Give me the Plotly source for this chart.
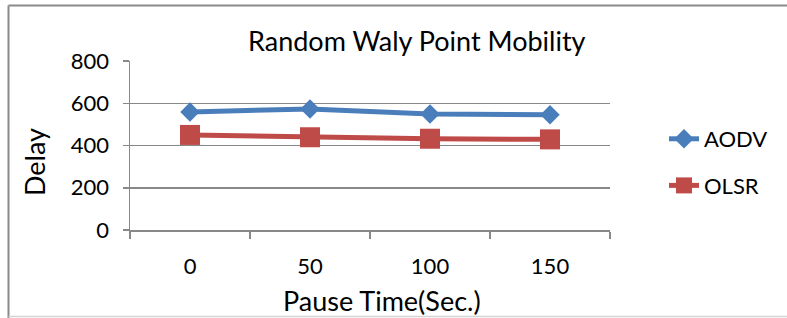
import plotly.graph_objects as go

# Data
pause_time = ["0", "50", "100", "150"]
aodv_delay = [559, 573, 549, 545]
olsr_delay = [450, 439, 432, 429]
y_ticks = [0, 200, 400, 600, 800]

FONT = "Lato"
W, H = 787, 318
L, R, T, B = 130, 177, 61, 88
PW, PH = W - L - R, H - T - B


def px_x(x):
    return (x - L) / PW


def px_y(y):
    return (H - B - y) / PH


fig = go.Figure()
fig.add_trace(go.Scatter(
    x=pause_time, y=aodv_delay, name="AODV", mode="lines+markers",
    line=dict(color="#4A7EBB", width=5),
    marker=dict(symbol="diamond", size=15, color="#4A7EBB"),
    legendgroup="a",
))
fig.add_trace(go.Scatter(
    x=pause_time, y=olsr_delay, name="OLSR", mode="lines+markers",
    line=dict(color="#BE4B48", width=5),
    marker=dict(symbol="square", size=20, color="#BE4B48"),
    legendgroup="b",
))

axis_color = "#888888"
fig.update_layout(
    width=W, height=H,
    margin=dict(l=L, r=R, t=T, b=B, pad=0),
    paper_bgcolor="white", plot_bgcolor="white",
    font=dict(family=FONT, size=22, color="black"),
    showlegend=True,
    legend=dict(
        x=px_x(664), y=px_y(118), xanchor="left", yanchor="top",
        font=dict(family=FONT, size=22, color="black"),
        traceorder="grouped", tracegroupgap=15,
        bgcolor="rgba(0,0,0,0)",
    ),
    xaxis=dict(
        type="category", range=[-0.5, 3.5], tickson="boundaries",
        showgrid=False, showline=True, linecolor=axis_color, linewidth=1.5,
        ticks="outside", ticklen=7, tickcolor=axis_color, tickwidth=1.5,
        ticklabelstandoff=16, zeroline=False, fixedrange=True,
        tickfont=dict(family=FONT, size=22),
    ),
    yaxis=dict(
        range=[0, 800], tickvals=y_ticks, ticktext=[str(v) for v in y_ticks],
        showgrid=True, gridcolor=axis_color, gridwidth=1.5,
        showline=True, linecolor=axis_color, linewidth=1.5,
        ticks="outside", ticklen=6, tickcolor=axis_color, tickwidth=1.5,
        ticklabelstandoff=9, zeroline=False, fixedrange=True,
        tickfont=dict(family=FONT, size=22),
    ),
)

# Axis / chart titles
common = dict(xref="paper", yref="paper", showarrow=False,
              xanchor="center", yanchor="middle")
fig.add_annotation(text="Random Waly Point Mobility",
                   x=px_x(417), y=px_y(40),
                   font=dict(family=FONT, size=27, color="black"), **common)
fig.add_annotation(text="Pause Time(Sec.)",
                   x=px_x(382), y=px_y(300),
                   font=dict(family=FONT, size=27, color="black"), **common)
fig.add_annotation(text="Delay", textangle=-90,
                   x=px_x(34), y=px_y(162),
                   font=dict(family=FONT, size=27, color="black"), **common)

# Chart area border
border = "#8a8a8a"
fig.add_shape(type="line", xref="paper", yref="paper",
              x0=px_x(8.5), x1=px_x(800), y0=px_y(5.5), y1=px_y(5.5),
              line=dict(color=border, width=2))
fig.add_shape(type="line", xref="paper", yref="paper",
              x0=px_x(8.5), x1=px_x(8.5), y0=px_y(5.5), y1=px_y(330),
              line=dict(color=border, width=2))
fig.add_shape(type="line", xref="paper", yref="paper",
              x0=px_x(8.5), x1=px_x(800), y0=px_y(316.5), y1=px_y(316.5),
              line=dict(color="#d4d4d4", width=1.5))

fig.write_html(
    "out.html",
    config={"displayModeBar": False, "staticPlot": True},
    post_script="document.body.style.margin='0';"
                "document.body.style.overflow='hidden';",
)
